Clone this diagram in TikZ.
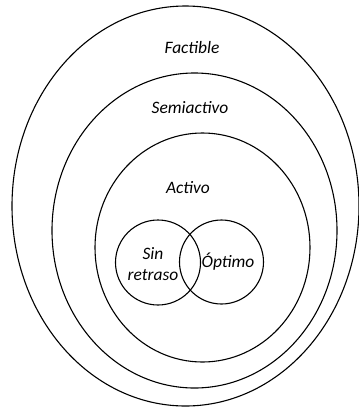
\documentclass[tikz,border=0pt]{standalone}
\usepackage{fontspec}
\setmainfont{Carlito}
\usetikzlibrary{positioning}

\begin{document}
\begin{tikzpicture}[x=1bp, y=-1bp, line width=1.1bp,
    etiqueta/.style={font=\itshape\fontsize{17.5}{21.5}\selectfont, inner sep=0pt, align=center}]
    \useasboundingbox (0, 0) rectangle (359, 408);
    % conjuntos
    \draw(185.5, 206) ellipse[x radius=173.5bp, y radius=200bp];
    \draw(194.5, 230.5) ellipse[x radius=142.5bp, y radius=157.5bp];
    \draw(202.5, 247.5) ellipse[x radius=107.5bp, y radius=114.5bp];
    \draw(158, 262.5) circle[radius=42.5bp];
    \draw(221.5, 262) circle[radius=42bp];

    \node[etiqueta] (factible) at (192, 48){Factible};
    \node[etiqueta] (semiactivo) at (190, 108){Semiactivo};
    \node[etiqueta] (activo) at (188, 188){Activo};
    \node[etiqueta] (sinretraso) at (153, 264){Sin\\retraso};
    \node[etiqueta] (optimo) at (228, 262){Óptimo};
\end{tikzpicture}
\end{document}
